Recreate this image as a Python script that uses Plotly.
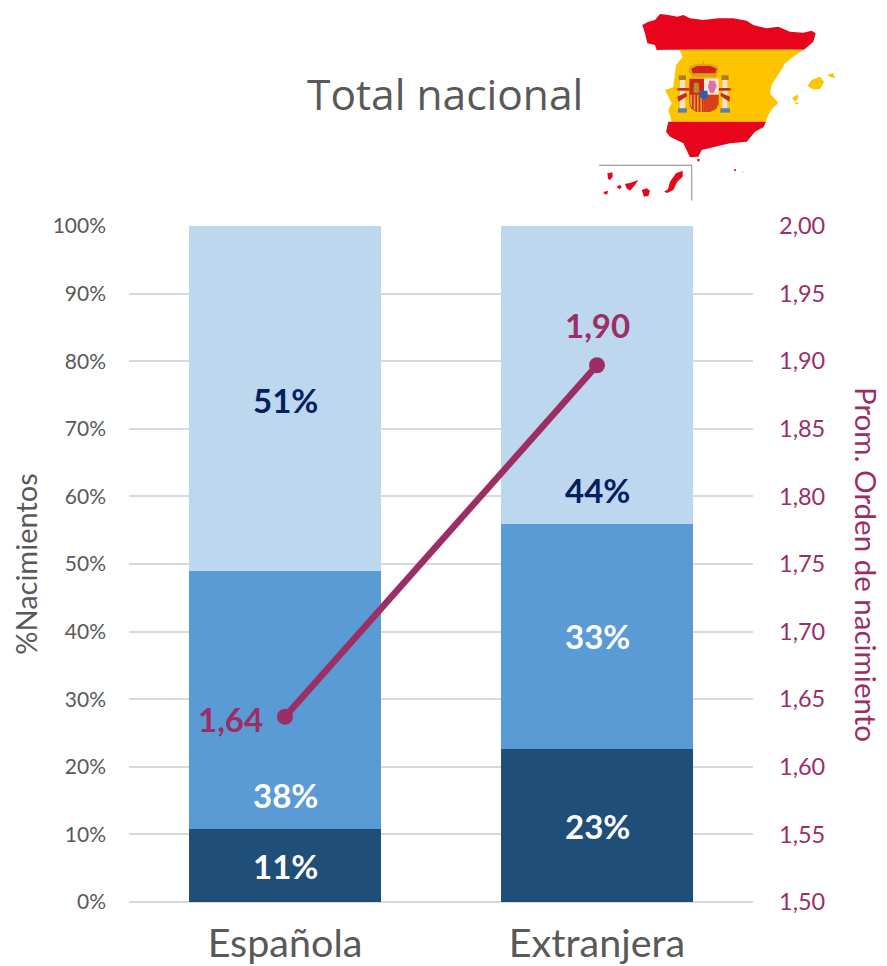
import plotly.graph_objects as go

categories = ["Española", "Extranjera"]
serie_oscura = [10.8, 22.7]
serie_media = [38.1, 33.2]
serie_clara = [51.1, 44.1]
orden_nacimiento = [1.637, 1.897]
etiqueta_oscura_y = [5.4, 11.3]
etiqueta_media_y = [15.9, 39.3]
etiqueta_clara_y = [74.3, 60.9]

W, H = 887, 966
L, R, T, B = 129, 134, 226, 64
FONT = "Lato, Carlito, Calibri, sans-serif"
GREY = "#595959"
WINE = "#9C2E66"
NAVY = "#002060"


def pct(v):
    return f"{round(v)}%"


def paper(x, y):
    return (x - L) / (W - L - R), (H - B - y) / (H - T - B)


def px(pt):
    # zoomed map-crop pixel -> paper fraction of the plot area
    return paper(590 + pt[0] / 3, pt[1] / 3)


def poly(points, color, width=0):
    d = ""
    for i, p in enumerate(points):
        x, y = px(p)
        d += ("M" if i == 0 else "L") + f"{x:.4f},{y:.4f} "
    return dict(type="path", xref="paper", yref="paper", path=d + "Z", fillcolor=color,
                line=dict(color=color, width=width), layer="above")


def rect(x0, y0, x1, y1, color):
    return poly([(x0, y0), (x1, y0), (x1, y1), (x0, y1)], color)


RED = "#E8051C"
YEL = "#FFC400"
map_shapes = [
    poly([(157,75),(175,65),(195,60),(210,42),(235,45),(262,50),(280,45),(300,55),(340,60),(385,55),(430,55),
          (470,62),(490,75),(530,85),(565,80),(600,95),(640,98),(665,92),(677,100),(670,125),(642,149),
          (268,149),(235,149),(200,150),(195,135),(172,130),(165,100)], RED),
    poly([(268,149),(640,149),(610,170),(585,190),(570,215),(545,255),(540,280),(565,308),(548,325),(535,345),
          (527,365),(245,365),(235,330),(245,310),(225,270),(250,262),(258,195),(278,170)], YEL),
    poly([(235,365),(528,365),(520,382),(495,395),(470,425),(420,430),(375,440),(335,450),(325,470),(300,472),
          (280,430),(240,410),(228,395)], RED),
    poly([(652,258),(665,240),(690,230),(702,245),(690,268),(670,268)], YEL),
    poly([(712,225),(728,219),(736,233),(722,232)], YEL),
    poly([(607,295),(622,283),(625,295),(615,305)], YEL),
    poly([(614,307),(624,308),(626,312),(616,312)], YEL),
    # Canarias
    poly([(52,520),(67,517),(68,530),(60,541),(54,535)], RED),
    poly([(40,576),(54,572),(52,583),(44,583)], RED),
    poly([(80,560),(90,554),(95,562),(88,568)], RED),
    poly([(105,552),(122,548),(145,540),(135,555),(120,572),(110,565)], RED),
    poly([(155,570),(170,565),(180,572),(175,588),(162,590)], RED),
    poly([(222,575),(234,568),(240,545),(258,520),(278,512),(278,530),(262,545),(250,570),(232,579)], RED),
    poly([(322,477),(329,477),(329,484),(322,484)], RED),
    poly([(432,508),(438,508),(438,513),(432,513)], RED),
    poly([(456,515),(461,515),(461,518),(456,518)], "#F2A0A8"),
    # marco de Canarias
    rect(27, 494, 306, 497, "#808080"),
    rect(303, 494, 307, 602, "#A6A6A6"),
    # columnas
    rect(270, 240, 285, 325, "#E8E4D8"),
    rect(397, 240, 412, 325, "#E8E4D8"),
    rect(266, 226, 288, 240, "#A88020"),
    rect(394, 226, 416, 240, "#A88020"),
    rect(264, 325, 291, 338, "#5C80A8"),
    rect(391, 325, 420, 338, "#5C80A8"),
    # cintas
    rect(262, 264, 298, 272, "#C8261E"),
    rect(386, 264, 422, 272, "#C8261E"),
    poly([(262,290),(288,278),(292,288),(266,305)], "#C8261E"),
    poly([(392,278),(420,290),(418,305),(392,288)], "#C8261E"),
    # escudo
    poly([(298,236),(342,236),(342,336),(320,336),(304,326),(298,310)], "#C8261E"),
    rect(342, 236, 386, 284, "#EFE6E6"),
    poly([(342,284),(386,284),(386,312),(378,328),(360,336),(342,336)], "#D8401A"),
    poly([(300,284),(342,284),(342,336),(322,335),(306,325),(300,310)], "#E8A020"),
    rect(306, 284, 311, 326, "#D02C1C"),
    rect(316, 284, 321, 334, "#D02C1C"),
    rect(326, 284, 331, 336, "#D02C1C"),
    rect(336, 284, 341, 336, "#D02C1C"),
    poly([(358,242),(374,242),(380,258),(372,278),(360,278),(354,262)], "#E070A0"),
    poly([(312,248),(326,248),(328,278),(310,278)], "#B59020"),
    poly([(330,272),(352,272),(354,292),(342,300),(330,292)], "#2C5FA8"),
    # corona
    poly([(295,212),(302,198),(320,192),(336,192),(340,178),(344,192),(362,192),(380,198),(387,212),(380,224),(303,224)], "#D9A418"),
    poly([(304,206),(322,198),(360,198),(380,206),(376,220),(308,220)], "#D8201C"),
    rect(305, 222, 380, 232, "#D9A418"),
]

fig = go.Figure()
for vals, color in [(serie_oscura, "#1F4E79"), (serie_media, "#5B9BD5"), (serie_clara, "#BDD7EE")]:
    fig.add_trace(go.Bar(x=categories, y=vals, marker=dict(color=color, line_width=0), yaxis="y"))

fig.add_trace(go.Scatter(
    x=categories, y=orden_nacimiento, yaxis="y2", mode="lines+markers",
    line=dict(color=WINE, width=6.5), marker=dict(color=WINE, size=16),
))

ann = []
for cat, a, ay, b, by, c, cy in zip(categories, serie_oscura, etiqueta_oscura_y, serie_media,
                                    etiqueta_media_y, serie_clara, etiqueta_clara_y):
    for v, y, col in [(a, ay, "white"), (b, by, "white"), (c, cy, NAVY)]:
        ann.append(dict(x=cat, y=y, yref="y", text=f"<b>{pct(v)}</b>", showarrow=False,
                        font=dict(family=FONT, size=33, color=col)))
ann.append(dict(x=categories[0], y=orden_nacimiento[0], yref="y2", text="<b>%.2f</b>" % orden_nacimiento[0],
                showarrow=False, xshift=-55, yshift=-2, font=dict(family=FONT, size=33, color=WINE)))
ann.append(dict(x=categories[1], y=orden_nacimiento[1], yref="y2", text="<b>%.2f</b>" % orden_nacimiento[1],
                showarrow=False, yshift=40, font=dict(family=FONT, size=33, color=WINE)))
for a in ann:
    a["text"] = a["text"].replace(".", ",")

tx, ty = paper(445, 94)
ann.append(dict(x=tx, y=ty, xref="paper", yref="paper", xanchor="center", yanchor="middle",
                text="Total nacional", showarrow=False,
                font=dict(family="'Open Sans', sans-serif", size=42.5, color=GREY)))
rx, ry = paper(867, 564)
ann.append(dict(x=rx, y=ry, xref="paper", yref="paper", xanchor="center", yanchor="middle", textangle=90,
                text="Prom. Orden de nacimiento", showarrow=False,
                font=dict(family=FONT, size=29.5, color=WINE)))

fig.update_layout(
    width=W, height=H, autosize=False,
    margin=dict(l=L, r=R, t=T, b=B, pad=0),
    paper_bgcolor="white", plot_bgcolor="white",
    barmode="stack", bargap=0.385, showlegend=False,
    separators=", ",
    font=dict(family=FONT, color=GREY),
    xaxis=dict(tickfont=dict(size=39.5, color=GREY, family=FONT), showgrid=False, showline=False,
               ticks="", ticklabelstandoff=14, automargin=False),
    yaxis=dict(range=[0, 100], dtick=10, ticksuffix="%", showgrid=True, gridcolor="#D9D9D9", gridwidth=2,
               zeroline=True, zerolinecolor="#D9D9D9", zerolinewidth=2, automargin=False,
               tickfont=dict(size=21, color=GREY, family=FONT), ticks="", ticklabelstandoff=22,
               title=dict(text="%Nacimientos", font=dict(size=29, color=GREY, family=FONT), standoff=6)),
    yaxis2=dict(range=[1.5, 2.0], dtick=0.05, tickformat=".2f", overlaying="y", side="right", showgrid=False,
                zeroline=False, automargin=False, tickfont=dict(size=23.5, color=WINE, family=FONT), ticks="",
                ticklabelstandoff=25),
    annotations=ann,
    shapes=map_shapes,
)

fig.write_html("out.html", config=dict(displayModeBar=False),
               post_script="document.body.style.margin='0';document.documentElement.style.overflow='hidden';")
